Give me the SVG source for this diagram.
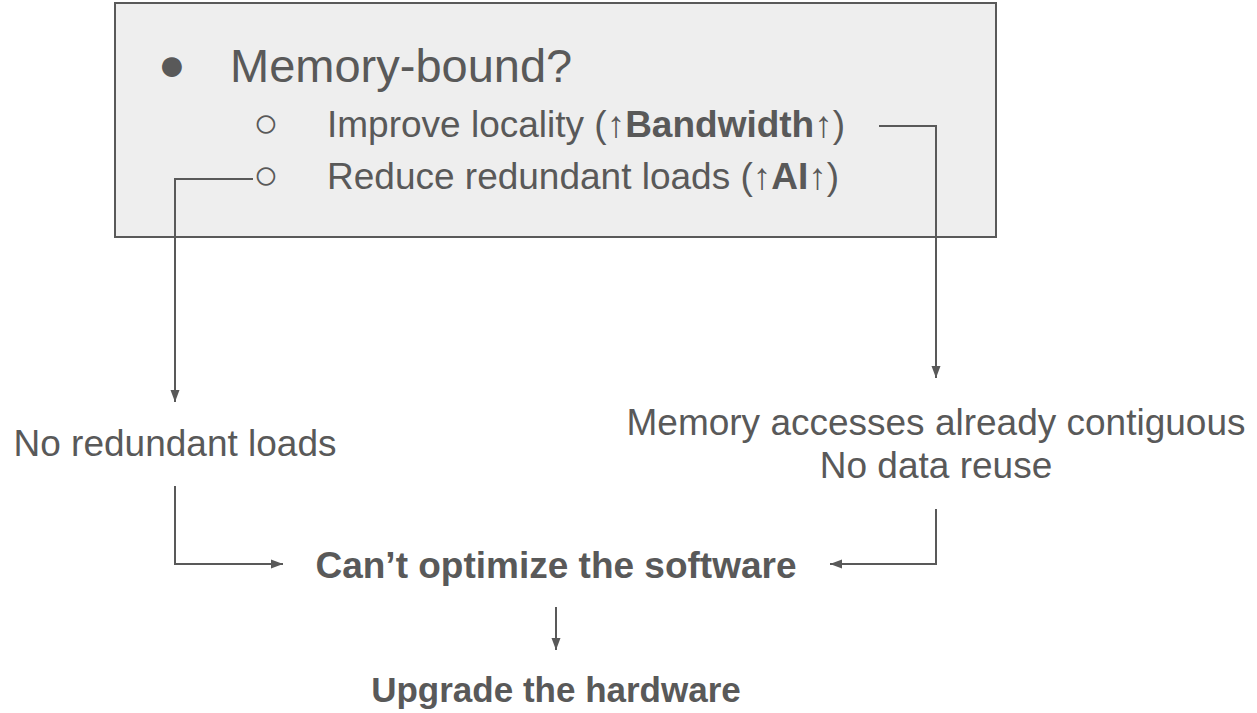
<svg xmlns="http://www.w3.org/2000/svg" width="1257" height="713" viewBox="0 0 1257 713">
  <style>
    .t { font-family: "Liberation Sans", Arial, sans-serif; fill: #595959; }
    .b { font-weight: bold; }
    .line { fill: none; stroke: #595959; stroke-width: 2; }
  </style>
  <defs>
    <marker id="arrow" viewBox="0 0 12 10" refX="12" refY="5" markerWidth="12" markerHeight="10" markerUnits="userSpaceOnUse" orient="auto">
      <path d="M0,0.5 L12,5 L0,9.5 Z" fill="#595959"/>
    </marker>
  </defs>
  <rect width="1257" height="713" fill="#ffffff"/>

  <!-- question box -->
  <g id="memory-bound">
    <rect x="115" y="3" width="881" height="234" fill="#eeeeee" stroke="#595959" stroke-width="2"/>
    <text class="t" x="172" y="80" font-size="46" text-anchor="middle">●</text>
    <text class="t" x="230" y="82" font-size="47">Memory-bound?</text>
    <text class="t" x="266" y="137" font-size="42" text-anchor="middle">○</text>
    <text class="t" x="327" y="137" font-size="37">Improve locality (↑<tspan class="b">Bandwidth</tspan>↑)</text>
    <text class="t" x="266" y="189" font-size="42" text-anchor="middle">○</text>
    <text class="t" x="327" y="189" font-size="37">Reduce redundant loads (↑<tspan class="b">AI</tspan>↑)</text>
  </g>

  <g id="no-redundant">
    <text class="t" x="175" y="456" font-size="37" text-anchor="middle">No redundant loads</text>
  </g>

  <g id="contiguous">
    <text class="t" x="936" y="435" font-size="37" text-anchor="middle">Memory accesses already contiguous</text>
    <text class="t" x="936" y="478" font-size="37" text-anchor="middle">No data reuse</text>
  </g>

  <g id="cant-optimize">
    <text class="t b" x="556" y="578" font-size="37" text-anchor="middle">Can’t optimize the software</text>
  </g>

  <g id="upgrade">
    <text class="t b" x="556" y="702" font-size="35" text-anchor="middle">Upgrade the hardware</text>
  </g>

  <!-- connectors -->
  <g id="connectors">
    <path class="line" d="M253,179 H175 V402" marker-end="url(#arrow)"/>
    <path class="line" d="M879,126 H936 V378" marker-end="url(#arrow)"/>
    <path class="line" d="M175,486 V564 H283" marker-end="url(#arrow)"/>
    <path class="line" d="M936,509 V564 H830" marker-end="url(#arrow)"/>
    <path class="line" d="M556,607 V650" marker-end="url(#arrow)"/>
  </g>
</svg>
